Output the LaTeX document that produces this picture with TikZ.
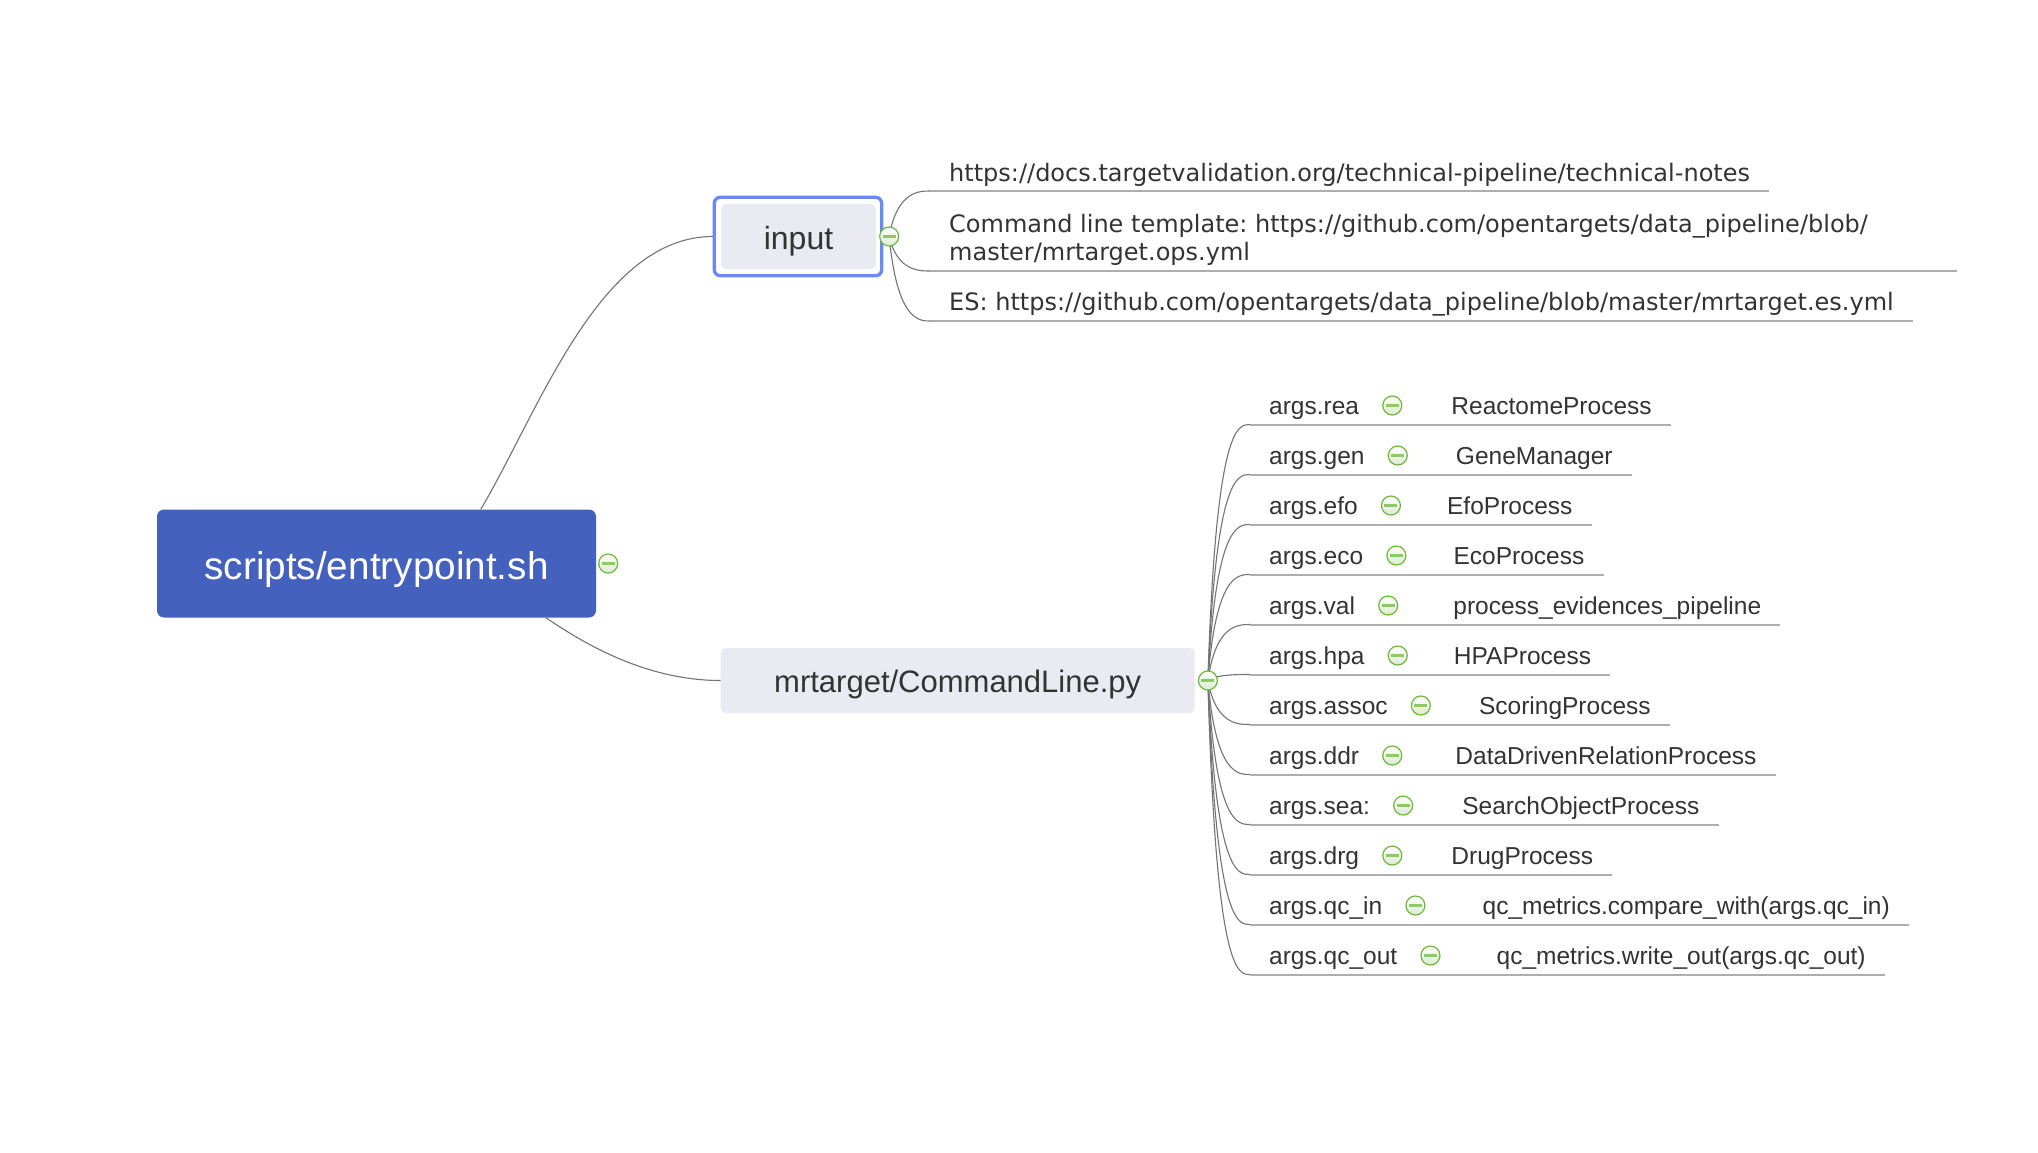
\documentclass[tikz,border=0pt]{standalone}
\usepackage{fontspec}
\setmainfont{Liberation Sans}
\newfontfamily\urlfont{DejaVu Sans}
\usetikzlibrary{calc}
\frenchspacing
\definecolor{mainblue}{HTML}{4461BD}
\definecolor{inblue}{HTML}{6A88F7}
\definecolor{boxgrey}{HTML}{E9EAF2}
\definecolor{txt}{HTML}{333333}
\definecolor{ulinec}{HTML}{AEAEAE}
\definecolor{connc}{HTML}{747474}
\definecolor{cgreen}{HTML}{6FB640}
\definecolor{cgreenl}{HTML}{8DC96C}
\definecolor{cfill}{HTML}{DCEBD0}
\tikzset{
  conn/.style={draw=connc, line width=1.1pt},
  uline/.style={draw=ulinec, line width=2pt},
  collapse/.style={circle, minimum size=19pt, inner sep=0pt, draw=cgreen, line width=1.2pt,
    top color=white, bottom color=cfill,
    path picture={\draw[cgreenl, line width=2.5pt] ($(path picture bounding box.center)+(-6.5,0)$) -- ($(path picture bounding box.center)+(6.5,0)$);}},
  mainbox/.style={fill=mainblue, text=white, rounded corners=7pt, minimum width=439pt, minimum height=108pt, inner sep=0pt, text height=40pt, text depth=8pt, font=\fontsize{38.7}{46}\selectfont},
  greybox/.style={fill=boxgrey, text=txt, inner sep=0pt},
  argtext/.style={anchor=base west, inner xsep=19pt, inner ysep=0pt, text=txt, font=\fontsize{24.5}{29}\selectfont},
  urltext/.style={anchor=base west, inner xsep=19pt, inner ysep=0pt, text=txt, font=\urlfont\fontsize{24}{28}\selectfont},
}
\begin{document}
\begin{tikzpicture}[x=1pt,y=-1pt]
\fill[white] (0,0) rectangle (2038,1152);
\useasboundingbox (0,0) rectangle (2038,1152);

% main boxes
\node[mainbox] (main) at (376.5,563.5) {scripts/entrypoint.sh};
\node[greybox, minimum width=155pt, minimum height=65pt, rounded corners=6pt, text height=33pt, text depth=6.7pt, font=\fontsize{32}{38}\selectfont] (inp) at (798.5,236.5) {input};
\draw[inblue, line width=3.3pt, rounded corners=6pt] ($(inp.north west)+(-6.5,-6.5)$) rectangle ($(inp.south east)+(5.5,6.5)$);
\node[greybox, minimum width=474pt, minimum height=65pt, rounded corners=5pt, text height=30.6pt, text depth=6.5pt, font=\fontsize{31}{37}\selectfont] (cmd) at (957.7,680.5) {mrtarget/CommandLine.py};

\coordinate (mt) at ($(main.north west)+(324,0)$);
\coordinate (mb) at ($(main.south west)+(389,0)$);
\coordinate (inpL) at ($(inp.west)+(-8,0)$);
\coordinate (kmc) at ($(main.east)+(12,0)$);
\coordinate (kic) at ($(inp.east)+(13,0)$);
\coordinate (kcc) at ($(cmd.east)+(13,0)$);

% connectors from main
\draw[conn] (mt) .. controls ($(mt)+(59,-100)$) and ($(inpL)+(-113,0)$) .. (inpL);
\draw[conn] (mb) .. controls ($(mb)+(30,20)$) and ($(cmd.west)+(-80,0)$) .. (cmd.west);

% input children
\coordinate (v1) at (930,191);
\coordinate (v2) at (930,271);
\coordinate (v3) at (930,321);
\node[urltext] (t1) at ($(v1)+(0,-9.5)$) {https://docs.targetvalidation.org/technical-pipeline/technical-notes};
\node[urltext] (t2) at ($(v2)+(0,-39)$) {\vtop{\hbox to 989pt{Command line template: https://github.com/opentargets/data\_pipeline/blob/\hfil}\hbox{master/mrtarget.ops.yml}}};
\node[urltext] (t3) at ($(v3)+(0,-10.5)$) {ES: https://github.com/opentargets/data\_pipeline/blob/master/mrtarget.es.yml};
\foreach \k/\t in {v1/t1, v2/t2, v3/t3}{
  \draw[conn] (kic) .. controls ($(kic |- \k)+(8,0)$) and ($(kic |- \k)+(30,0)$) .. (\k);
  \draw[uline] (\k) -- (\t.east |- \k);
}

% CommandLine children
\foreach \argt/\proc/\off [count=\i] in {
  args.rea/ReactomeProcess/0,
  args.gen/GeneManager/-1,
  args.efo/EfoProcess/-3,
  args.eco/EcoProcess/-2,
  args.val/process\_evidences\_pipeline/6,
  args.hpa/HPAProcess/-3,
  args.assoc/ScoringProcess/-1,
  args.ddr/DataDrivenRelationProcess/4,
  args.sea:/SearchObjectProcess/0,
  args.drg/DrugProcess/0,
  args.qc\_in/qc\_metrics.compare\_with(args.qc\_in)/8,
  args.qc\_out/qc\_metrics.write\_out(args.qc\_out)/7}{
  \coordinate (u\i) at (1250,{424.5+50*(\i-1)});
  \node[argtext] (a\i) at ($(u\i)+(0,-10)$) {\argt};
  \node[argtext] (c\i) at ($(a\i.base east)+(54+\off,0)$) {\proc};
  \draw[conn] (kcc) .. controls ($(kcc |- u\i)+(8,0)$) and ($(kcc |- u\i)+(30,0)$) .. (u\i);
  \draw[uline] (u\i) -- (c\i.base east |- u\i);
  \node[collapse] (k\i) at ($(a\i.base east)+(14,-9)$) {};
}

% collapse markers
\node[collapse] (km) at (kmc) {};
\node[collapse] (ki) at (kic) {};
\node[collapse] (kc) at (kcc) {};
\end{tikzpicture}
\end{document}
